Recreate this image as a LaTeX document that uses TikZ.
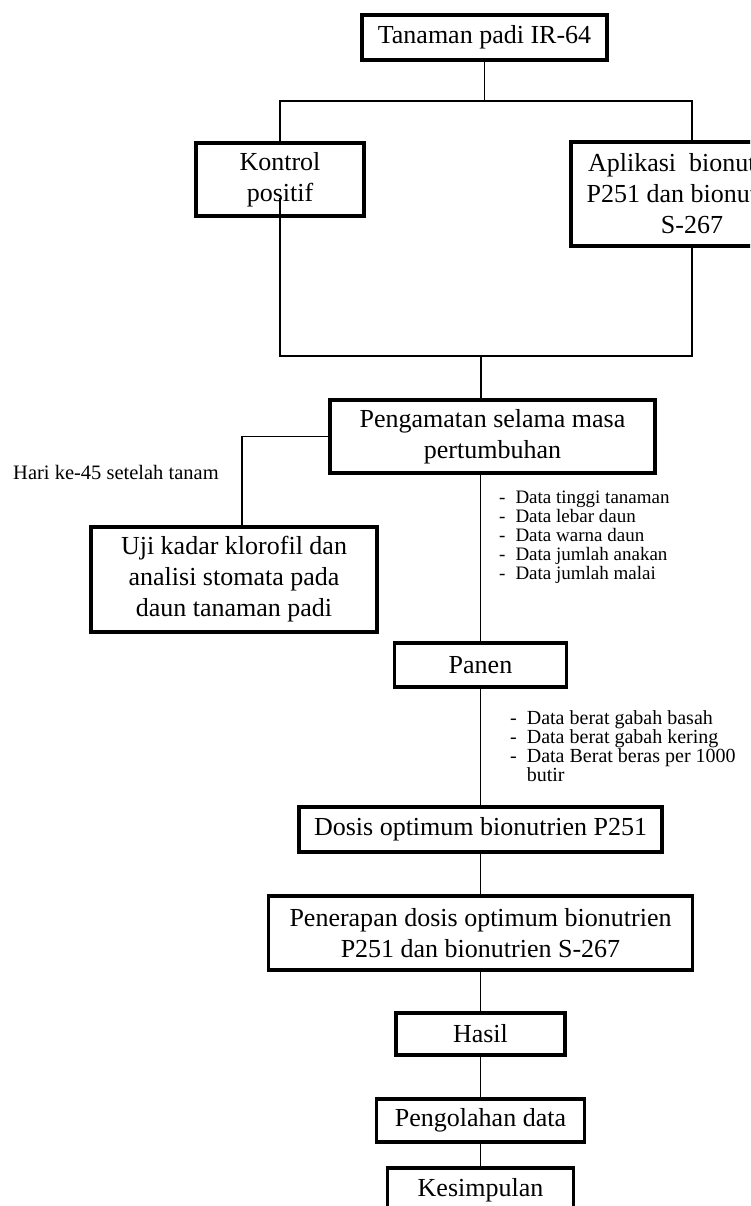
\documentclass[tikz,border=0pt]{standalone}
\usepackage{fontspec}
\setmainfont{Liberation Serif}
\tikzset{
  box/.style={draw, line width=3.5pt, fill=white, align=center, inner sep=0pt,
    font=\fontsize{26}{31}\selectfont},
  note/.style={inner sep=0pt, align=left, font=\fontsize{19}{19}\selectfont},
  link/.style={line width=1.3pt}
}
\begin{document}
\begin{tikzpicture}[x=1pt, y=-1pt]
  \useasboundingbox (0,0) rectangle (750,1206);
  \clip (0,0) rectangle (750,1206);
  \fill[white] (0,0) rectangle (750,1206);

  \node[box, minimum width=245pt, minimum height=45pt] (tanam) at (484.5,37.5) {Tanaman padi IR-64};
  \node[box, minimum width=168pt, minimum height=73pt] (kontrol) at (280,179.5) {Kontrol\\positif};
  \node[box, minimum width=242pt, minimum height=104pt] (aplikasi) at (692,194) {Aplikasi \ bionutrien\\P251 dan bionutrien\\S-267};
  \node[box, minimum width=325pt, minimum height=73pt] (amat) at (492.5,436.5) {Pengamatan selama masa\\pertumbuhan};
  \node[box, minimum width=286pt, minimum height=105pt] (uji) at (234,579.5) {Uji kadar klorofil dan\\analisi stomata pada\\daun tanaman padi};
  \node[box, minimum width=172pt, minimum height=44pt] (panen) at (480.5,665) {Panen};
  \node[box, minimum width=363pt, minimum height=45pt] (dosis) at (480.5,829.5) {Dosis optimum bionutrien P251};
  \node[box, minimum width=424pt, minimum height=74pt] (terap) at (480.5,933) {Penerapan dosis optimum bionutrien\\P251 dan bionutrien S-267};
  \node[box, minimum width=169pt, minimum height=42pt] (hasil) at (480.5,1034) {Hasil};
  \node[box, minimum width=208pt, minimum height=43pt] (olah) at (480.5,1120.5) {Pengolahan data};
  \node[box, minimum width=186pt, minimum height=45pt] (simpul) at (480.5,1190.5) {Kesimpulan};

  \node[note, font=\fontsize{20.5}{24}\selectfont, anchor=west] (hari) at (13,472) {Hari ke-45 setelah tanam};
  \node[note, anchor=north west] (data1) at (499,490) {\begin{tabular}{@{}l@{\hspace{10pt}}l@{}}
    - & Data tinggi tanaman\\
    - & Data lebar daun\\
    - & Data warna daun\\
    - & Data jumlah anakan\\
    - & Data jumlah malai
  \end{tabular}};
  \node[note, font=\fontsize{20}{17}\selectfont, anchor=north west] (data2) at (510,710) {\begin{tabular}{@{}l@{\hspace{10pt}}l@{}}
    - & Data berat gabah basah\\
    - & Data berat gabah kering\\
    - & Data Berat beras per 1000\\
      & butir
  \end{tabular}};

  \coordinate (j1) at (484.5,101);
  \coordinate (j2) at (481,356);
  \draw[link] (tanam.south) -- (j1);
  \draw[link] (kontrol.north) |- (j1) -| (aplikasi.north);
  \draw[link] ([yshift=20pt]kontrol.south) |- (j2) -| (aplikasi.south);
  \draw[link] (j2) -- (j2 |- amat.north);
  \draw[link] (amat.west) -| ([xshift=8pt]uji.north);
  \draw[link] (amat.south -| panen.north) -- (panen.north);
  \draw[link] (panen.south) -- (dosis.north);
  \draw[link] (dosis.south) -- (terap.north);
  \draw[link] (terap.south) -- (hasil.north);
  \draw[link] (hasil.south) -- (olah.north);
  \draw[link] (olah.south) -- (simpul.north);
\end{tikzpicture}
\end{document}
